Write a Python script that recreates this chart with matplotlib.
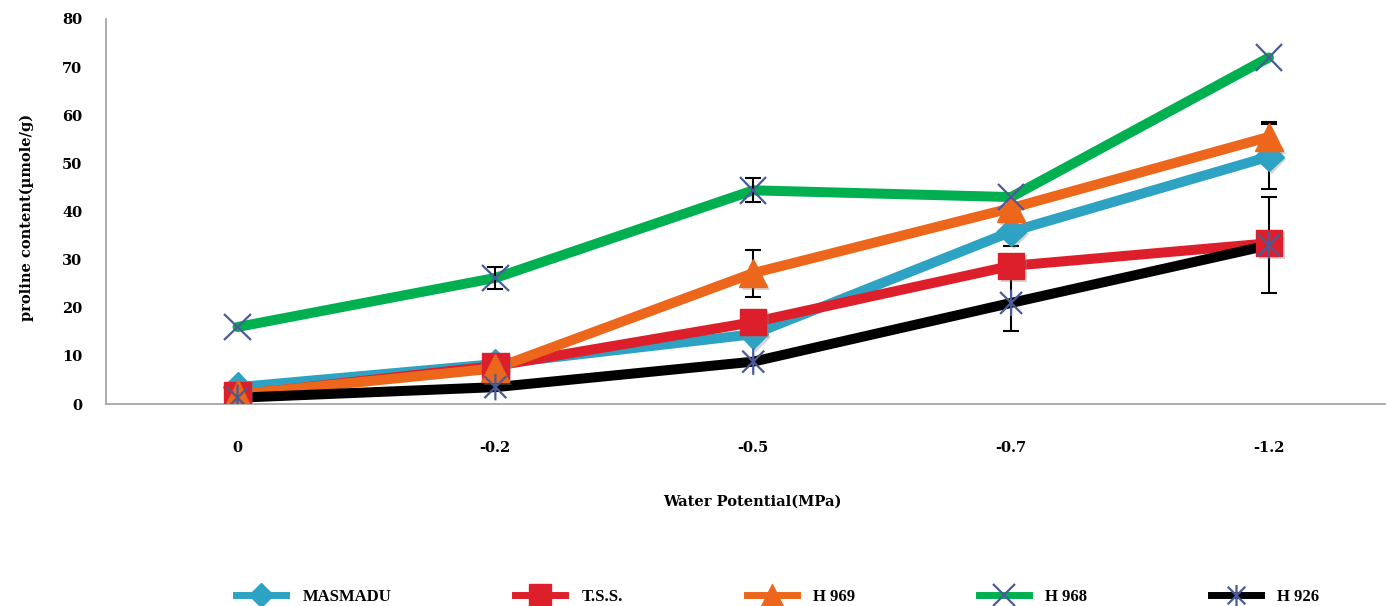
import matplotlib
matplotlib.use("Agg")
import matplotlib.pyplot as plt
import numpy as np
from matplotlib.path import Path
import matplotlib.patheffects as pe

# Water potential levels (MPa) and proline content (µmole/g) per genotype
potentials = ["0", "-0.2", "-0.5", "-0.7", "-1.2"]

masmadu = [3.5, 8.3, 14.5, 35.8, 51.4]
tss = [1.9, 7.9, 17.0, 28.7, 33.4]
h969 = [2.0, 7.4, 27.2, 40.7, 55.5]
h968 = [16.0, 26.2, 44.4, 43.0, 72.0]
h926 = [1.3, 3.5, 8.8, 21.0, 33.0]

# Standard errors (0 = no bar shown)
masmadu_err = [0, 0, 0, 3.0, 6.7]
tss_err = [0, 0, 0, 0, 0]
h969_err = [0, 0, 4.9, 0, 3.0]
h968_err = [0, 2.2, 2.5, 0, 0]
h926_err = [0, 0, 0, 5.8, 10.0]

series_names = ["MASMADU", "T.S.S.", "H 969", "H 968", "H 926"]

plt.rcParams["font.family"] = ["DejaVu Serif"]
plt.rcParams["font.weight"] = "bold"

# Star marker: an X with a vertical stroke
star_path = Path(
    [(-1, -1), (1, 1), (-1, 1), (1, -1), (0, -1.2), (0, 1.2)],
    [Path.MOVETO, Path.LINETO, Path.MOVETO, Path.LINETO, Path.MOVETO, Path.LINETO],
)

styles = [
    dict(color="#2ea2c2", marker="D", ms=15, mfc="#2ea2c2", mec="#2ea2c2", mew=1),
    dict(color="#dc1f2a", marker="s", ms=19, mfc="#dc1f2a", mec="#dc1f2a", mew=1),
    dict(color="#ec661b", marker="^", ms=20, mfc="#ec661b", mec="#ec661b", mew=1),
    dict(color="#00b050", marker="x", ms=19, mfc="none", mec="#4a5b98", mew=1.6),
    dict(color="#000000", marker=star_path, ms=19, mfc="none", mec="#4a5b98", mew=1.6),
]

data = [masmadu, tss, h969, h968, h926]
errs = [masmadu_err, tss_err, h969_err, h968_err, h926_err]

fig = plt.figure(figsize=(13.87, 6.06), dpi=100)
ax = fig.add_axes([106 / 1387, 202 / 606, 1279 / 1387, 385 / 606])

x = np.arange(len(potentials))
shadow = [pe.SimplePatchShadow(offset=(2, -2), shadow_rgbFace="#888888", alpha=0.35), pe.Normal()]

for vals, st in zip(data, styles):
    ax.plot(x, vals, color=st["color"], lw=7.2, solid_capstyle="round", zorder=2)

for vals, er in zip(data, errs):
    er = np.array(er, dtype=float)
    m = er > 0
    if m.any():
        ax.errorbar(x[m], np.array(vals)[m], yerr=er[m], fmt="none", ecolor="black",
                    elinewidth=1.5, capsize=6, capthick=1.5, zorder=3)

for vals, st in zip(data, styles):
    ax.plot(x, vals, linestyle="none", marker=st["marker"], ms=st["ms"],
            markerfacecolor=st["mfc"], markeredgecolor=st["mec"], markeredgewidth=st["mew"],
            zorder=4, path_effects=shadow)

# Legend proxies: line with marker
handles = []
for name, st in zip(series_names, styles):
    h, = ax.plot([], [], color=st["color"], lw=5, marker=st["marker"], ms=st["ms"] * 0.8,
                 markerfacecolor=st["mfc"], markeredgecolor=st["mec"], markeredgewidth=st["mew"],
                 label=name)
    handles.append(h)

ax.set_xlim(-0.51, 4.45)
ax.set_ylim(0, 80)
ax.set_yticks(np.arange(0, 81, 10))
ax.set_xticks(x)
ax.set_xticklabels(potentials)
ax.tick_params(axis="both", length=0, labelsize=10.5)
ax.tick_params(axis="x", pad=27)
ax.tick_params(axis="y", pad=17)
for lab in ax.get_xticklabels() + ax.get_yticklabels():
    lab.set_fontweight("bold")

for s in ["top", "right"]:
    ax.spines[s].set_visible(False)
for s in ["left", "bottom"]:
    ax.spines[s].set_color("#a0a0a0")
    ax.spines[s].set_linewidth(1.2)

fig.text(27 / 1387, 1 - 217 / 606, "proline content(µmole/g)", rotation=90,
         ha="center", va="center", fontsize=10.5, fontweight="bold")
fig.text(752 / 1387, 1 - 502 / 606, "Water Potential(MPa)", ha="center", va="center",
         fontsize=10.5, fontweight="bold")

fig.legend(handles=handles, loc="center", bbox_to_anchor=(778 / 1387, 1 - 597 / 606),
           ncol=5, frameon=False, handlelength=3.0, columnspacing=7.4,
           handletextpad=1.0,
           prop={"family": ["Liberation Serif"], "weight": "bold", "size": 12})

fig.savefig("out.png", dpi=100)
